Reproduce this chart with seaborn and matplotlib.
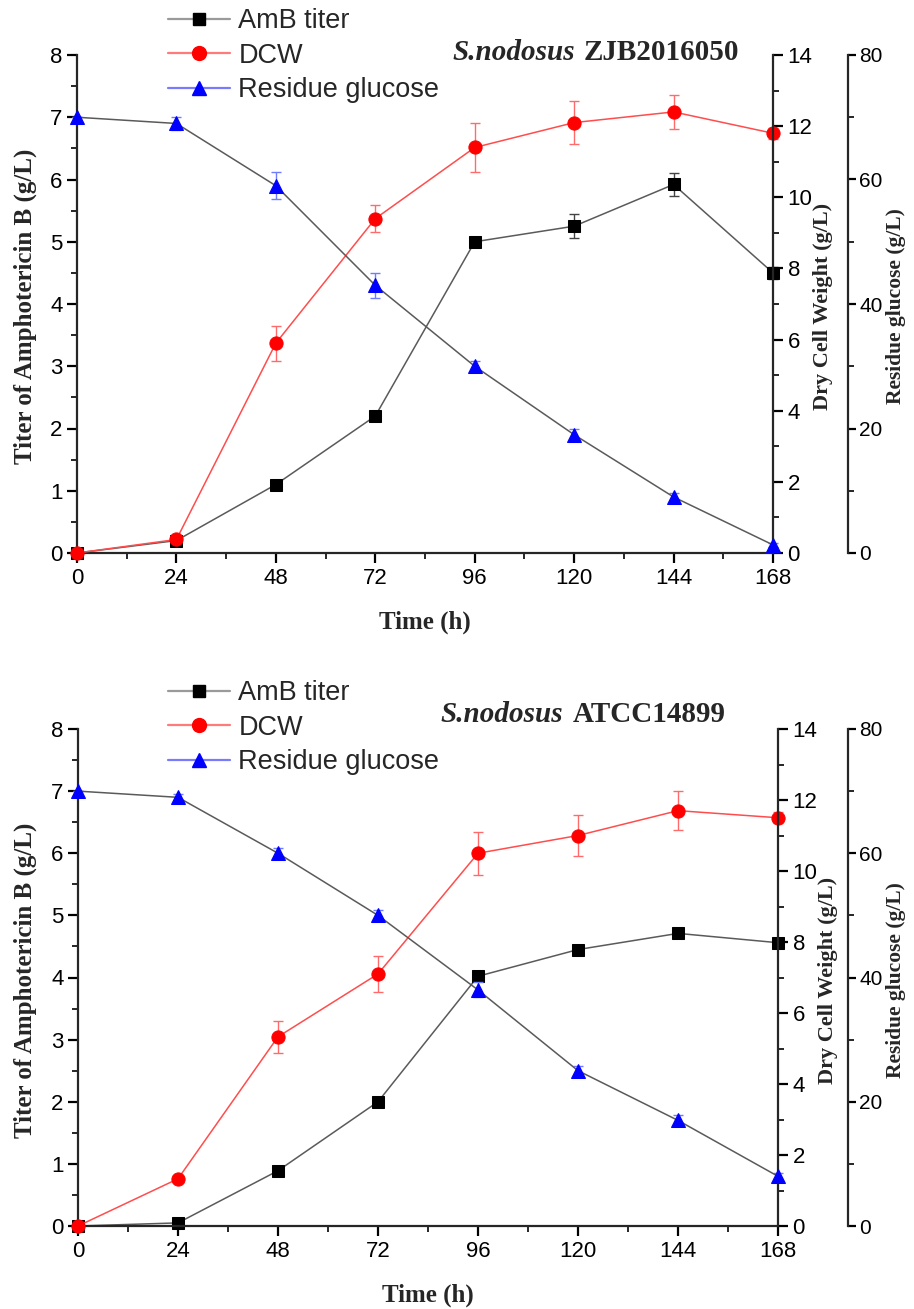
import matplotlib
matplotlib.use("Agg")
import matplotlib.pyplot as plt
from matplotlib.lines import Line2D
from matplotlib.ticker import MultipleLocator
import seaborn as sns

# Sampling times (h)
time = [0, 24, 48, 72, 96, 120, 144, 168]

# S.nodosus ZJB2016050
zjb_amb = [0.0, 0.2, 1.1, 2.2, 5.0, 5.25, 5.92, 4.5]
zjb_amb_err = [0.0, 0.03, 0.05, 0.08, 0.08, 0.19, 0.19, 0.1]
zjb_dcw = [0.0, 0.38, 5.9, 9.4, 11.4, 12.1, 12.4, 11.8]
zjb_dcw_err = [0.0, 0.05, 0.49, 0.37, 0.7, 0.6, 0.47, 0.15]
zjb_glc = [70.0, 69.0, 59.0, 43.0, 30.0, 19.0, 9.0, 1.3]
zjb_glc_err = [0.0, 1.0, 2.2, 2.0, 0.8, 1.0, 0.6, 0.3]

# S.nodosus ATCC14899
atcc_amb = [0.0, 0.05, 0.89, 2.0, 4.02, 4.45, 4.71, 4.56]
atcc_amb_err = [0.0, 0.02, 0.04, 0.03, 0.05, 0.08, 0.05, 0.05]
atcc_dcw = [0.0, 1.33, 5.33, 7.1, 10.5, 11.0, 11.7, 11.5]
atcc_dcw_err = [0.0, 0.05, 0.45, 0.5, 0.6, 0.58, 0.55, 0.15]
atcc_glc = [70.0, 69.0, 60.0, 50.0, 38.0, 25.0, 17.0, 8.0]
atcc_glc_err = [0.0, 0.5, 0.8, 0.8, 1.2, 0.8, 0.8, 0.5]

strains = ["ZJB2016050", "ATCC14899"]
legend_labels = ["AmB titer", "DCW", "Residue glucose"]

sns.set_style("ticks")
plt.rcParams["font.family"] = ["Liberation Sans", "DejaVu Sans"]
plt.rcParams["axes.linewidth"] = 1.6

fig = plt.figure(figsize=(9.14, 13.09), dpi=100)


def make_panel(rect, amb, amb_err, dcw, dcw_err, glc, glc_err, glc_spine, glc_lab_x):
    ax = fig.add_axes(rect)
    ax2 = ax.twinx()
    ax3 = ax.twinx()
    ax3.spines["right"].set_position(("axes", glc_spine))

    # glucose (on its own axis)
    ax3.errorbar(time, glc, yerr=glc_err, fmt="none", ecolor="#6f7cff",
                 elinewidth=1.0, capsize=3.5, capthick=1.0, clip_on=False)
    sns.lineplot(x=time, y=glc, ax=ax3, color="#5a5a5a", lw=1.1, marker="^",
                 markersize=10, markerfacecolor="#0000ff", markeredgecolor="#0000ff",
                 clip_on=False)
    # DCW
    ax2.errorbar(time, dcw, yerr=dcw_err, fmt="none", ecolor="#ff6b6b",
                 elinewidth=1.0, capsize=3.5, capthick=1.0, clip_on=False)
    sns.lineplot(x=time, y=dcw, ax=ax2, color="#ff4d4d", lw=1.1, marker="o",
                 markersize=9.5, markerfacecolor="#ff0000", markeredgecolor="#ff0000",
                 clip_on=False)
    # AmB titer
    ax.errorbar(time, amb, yerr=amb_err, fmt="none", ecolor="#444444",
                elinewidth=1.0, capsize=3.5, capthick=1.0, clip_on=False)
    sns.lineplot(x=time, y=amb, ax=ax, color="#5a5a5a", lw=1.1, marker="s",
                 markersize=8, markerfacecolor="black", markeredgecolor="black",
                 clip_on=False)

    ax.set_xlim(0, 168)
    ax.set_ylim(0, 8)
    ax2.set_ylim(0, 14)
    ax3.set_ylim(0, 80)
    ax.set_xticks(time)
    ax.xaxis.set_minor_locator(MultipleLocator(12))
    ax.yaxis.set_major_locator(MultipleLocator(1))
    ax.yaxis.set_minor_locator(MultipleLocator(0.5))
    ax2.yaxis.set_major_locator(MultipleLocator(2))
    ax2.yaxis.set_minor_locator(MultipleLocator(1))
    ax3.yaxis.set_major_locator(MultipleLocator(20))
    ax3.yaxis.set_minor_locator(MultipleLocator(10))

    for a in (ax, ax2, ax3):
        a.tick_params(which="major", direction="out", length=7, width=1.6,
                      labelsize=16, colors="black")
        a.tick_params(which="minor", direction="out", length=4.5, width=1.4)
        a.spines["top"].set_visible(False)
    ax3.tick_params(which="major", pad=2, length=6, labelsize=15)
    ax.spines["right"].set_visible(False)
    ax2.spines["left"].set_visible(False)
    ax3.spines["left"].set_visible(False)
    ax2.spines["bottom"].set_visible(False)
    ax3.spines["bottom"].set_visible(False)

    lab = dict(family="Liberation Serif", weight="bold", size=18)
    rlab = dict(family="Liberation Serif", weight="bold", size=16)
    glab = dict(family="Liberation Serif", weight="bold", size=15.5)
    ax.set_xlabel("Time (h)", labelpad=16, **lab)
    ax.set_ylabel("Titer of Amphotericin B (g/L)", **lab)
    ax2.set_ylabel("Dry Cell Weight (g/L)", **rlab)
    ax3.set_ylabel("Residue glucose (g/L)", **glab)
    ax.yaxis.set_label_coords(-0.058, 0.495)
    ax2.yaxis.set_label_coords(1.057, 0.495)
    ax3.yaxis.set_label_coords(glc_lab_x, 0.495)
    return ax


def legend_at(x_px, y_px):
    handles = [
        Line2D([], [], color="#9a9a9a", lw=1.6, marker="s", markersize=8,
               markerfacecolor="black", markeredgecolor="black"),
        Line2D([], [], color="#ff7a7a", lw=1.6, marker="o", markersize=10,
               markerfacecolor="#ff0000", markeredgecolor="#ff0000"),
        Line2D([], [], color="#7a7aff", lw=1.6, marker="^", markersize=10,
               markerfacecolor="#0000ff", markeredgecolor="#0000ff"),
    ]
    fig.legend(handles, legend_labels, loc="upper left",
               bbox_to_anchor=(x_px / 914, 1 - y_px / 1309), frameon=False,
               fontsize=19.5, handlelength=2.3, handletextpad=0.3,
               labelspacing=0.32, borderpad=0, borderaxespad=0)


def strain_label(x_px, y_px, code, split_px):
    fig.text(x_px / 914, 1 - y_px / 1309, "S.nodosus", family="Liberation Serif",
             weight="bold", style="italic", size=21, va="center", ha="left")
    fig.text((x_px + split_px) / 914, 1 - y_px / 1309, code, family="Liberation Serif",
             weight="bold", size=21, va="center", ha="left")


make_panel([77 / 914, 1 - 553 / 1309, 696 / 914, 498 / 1309],
           zjb_amb, zjb_amb_err, zjb_dcw, zjb_dcw_err, zjb_glc, zjb_glc_err,
           1.108, 1.163)
legend_at(168, 8)
strain_label(452, 52, strains[0], 132)

make_panel([78 / 914, 1 - 1226 / 1309, 700 / 914, 497 / 1309],
           atcc_amb, atcc_amb_err, atcc_dcw, atcc_dcw_err, atcc_glc, atcc_glc_err,
           1.10, 1.155)
legend_at(168, 680)
strain_label(440, 715, strains[1], 133)

fig.savefig("out.png", dpi=100)
